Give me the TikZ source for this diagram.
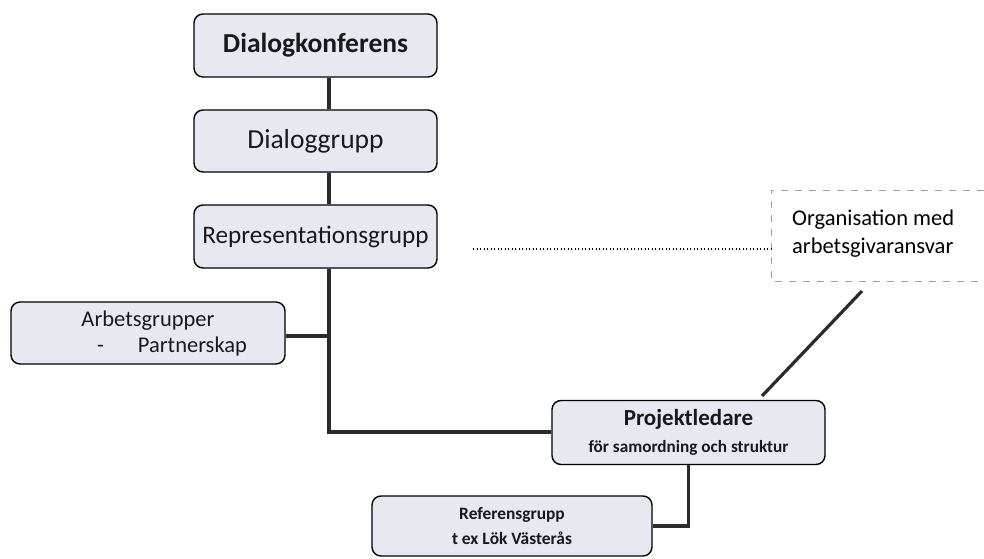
\documentclass[tikz,border=0pt]{standalone}
\usepackage{fontspec}
\setmainfont{Carlito}
\usetikzlibrary{calc}
\definecolor{boxfill}{HTML}{E7E9F1}
\definecolor{conn}{HTML}{2B2B2B}
\definecolor{dashgray}{HTML}{A0A0A0}
\tikzset{
  x=1pt,y=1pt,
  orgbox/.style={draw=black, line width=1.4pt, rounded corners=9pt, fill=boxfill,
    inner sep=0pt, align=center, text=black!90},
  conline/.style={draw=conn, line width=3.6pt},
}
\begin{document}
\begin{tikzpicture}
\useasboundingbox (0,0) rectangle (984,558);
% boxes
\node[orgbox, minimum width=243pt, minimum height=63pt,
  font=\fontsize{27.5}{32}\selectfont\bfseries] (dk) at (315.5,512.5) {Dialogkonferens};
\node[orgbox, minimum width=243pt, minimum height=62pt,
  font=\fontsize{27.5}{32}\selectfont] (dg) at (315.5,417) {Dialoggrupp};
\node[orgbox, minimum width=243pt, minimum height=63pt,
  font=\fontsize{25.2}{30}\selectfont] (rg) at (315.5,321.5) {Representationsgrupp};
\node[orgbox, minimum width=274pt, minimum height=62pt,
  font=\fontsize{22.5}{26}\selectfont] (ag) at (148,225)
  {Arbetsgrupper\\ \hspace*{48pt}-\hspace{34pt}Partnerskap};
\node[orgbox, minimum width=273pt, minimum height=64pt,
  font=\fontsize{17.2}{27}\selectfont\bfseries] (pl) at (688.5,125.5)
  {{\fontsize{23}{27}\selectfont Projektledare}\\ för samordning och struktur};
\node[orgbox, minimum width=280pt, minimum height=60pt,
  font=\fontsize{17.4}{25}\selectfont\bfseries] (rf) at (512,32)
  {Referensgrupp\\ t ex Lök Västerås};
\node[inner sep=0pt, align=left, anchor=west,
  font=\fontsize{22.5}{28}\selectfont] (org) at (792,324)
  {Organisation med\\ arbetsgivaransvar};
% dashed box around org (right edge outside the picture)
\coordinate (otl) at (771,368);
\coordinate (obl) at (771,277);
\draw[dashgray, line width=1pt, dash pattern=on 7pt off 7pt] (984,368) -- (otl) -- (obl) -- (984,277);
% trunk
\coordinate (trunk) at (329,0);
\coordinate (bend) at (329,126);
\draw[conline] (dk.south -| trunk) -- (dg.north -| trunk);
\draw[conline] (dg.south -| trunk) -- (rg.north -| trunk);
\draw[conline] (rg.south -| trunk) -- (bend) -- (bend -| pl.west);
\draw[conline] (ag.east |- 0,222) -- (trunk |- 0,222);
\draw[conline] (pl.south) |- (rf.east);
% diagonal
\coordinate (d1) at (762,162);
\coordinate (d2) at (862,267);
\draw[conline, line width=3.2pt] (d1) -- (d2);
% dotted
\coordinate (dotstart) at (473,309);
\draw[black, line width=1.3pt, dash pattern=on 1.3pt off 2.2pt] (dotstart) -- (otl |- dotstart);
\end{tikzpicture}
\end{document}
